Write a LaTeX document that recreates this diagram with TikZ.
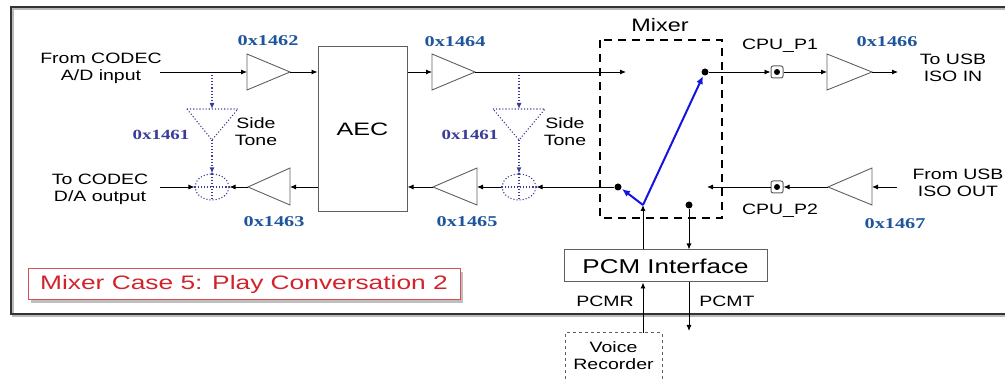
\documentclass[tikz,border=0pt]{standalone}
\usepackage{fontspec}
\usepackage{graphicx}
\setmainfont{Liberation Sans}
\newfontfamily\hexfont{Liberation Serif}
\usetikzlibrary{arrows.meta,shapes.geometric,calc}
\newcommand{\sx}[1]{\scalebox{1.3}[1]{#1}}
\definecolor{hexblue}{RGB}{30,85,155}
\definecolor{stblue}{RGB}{60,60,150}
\definecolor{swblue}{RGB}{20,20,225}
\definecolor{redtxt}{RGB}{210,35,45}
\definecolor{ampgray}{RGB}{95,95,95}
\tikzset{
  sig/.style={draw=black, line width=0.9pt, -{Latex[length=6pt,width=5pt]}},
  plain/.style={draw=black, line width=0.9pt},
  amp/.style={draw=ampgray, line width=0.9pt},
  stline/.style={draw=stblue, line width=1.1pt, dotted, -{Latex[length=6pt,width=5pt]}},
  stshape/.style={draw=stblue, line width=1.1pt, dotted},
  lbl/.style={font=\fontsize{15}{17}\selectfont, align=center, inner sep=0pt},
  hex/.style={font=\fontsize{15}{17}\hexfont\bfseries, text=hexblue, inner sep=0pt},
  hexd/.style={font=\fontsize{14}{16}\hexfont\bfseries, text=stblue, inner sep=0pt},
  blk/.style={draw=ampgray, line width=1pt, fill=white},
  dot/.style={circle, fill=black, inner sep=0pt, minimum size=7pt},
  cpub/.style={draw=ampgray, rounded corners=2pt, line width=1pt, minimum size=12pt, inner sep=0pt},
  sw/.style={draw=swblue, line width=2pt, -{Latex[length=8pt,width=7pt]}},
}
\begin{document}
\begin{tikzpicture}[x=1pt,y=-1pt]
\useasboundingbox (0,0) rectangle (1005,379);
% outer frame
\draw[gray!55, line width=1.2pt] (13,9) rectangle (1012,316);
\draw[gray!40!black, line width=1.2pt] (11,7) rectangle (1010,314);

% Mixer dashed box
\draw[black, line width=2pt, dash pattern=on 8pt off 6pt] (600,40) rectangle (722,218);
\node[font=\fontsize{18}{20}\selectfont, inner sep=0pt] (mixlbl) at (660,25) {\sx{Mixer}};

% AEC block
\node[blk, minimum width=89pt, minimum height=165pt, inner sep=0pt] (aec) at (362.5,129.5) {};
\node[font=\fontsize{18}{20}\selectfont, inner sep=0pt] (aectxt) at (aec.center) {\scalebox{1.4}[1]{AEC}};

% PCM Interface
\node[blk, minimum width=203pt, minimum height=32pt, inner sep=0pt] (pcm) at (665.5,266) {};
\node[font=\fontsize{20}{22}\selectfont, inner sep=0pt] (pcmtxt) at (pcm.center) {\sx{PCM Interface}};

% Voice recorder
\draw[ampgray, line width=1pt, dashed] (565,385) -- (565,333) -- (662,333) -- (662,385);
\coordinate (vr) at (643,333);
\node[lbl, font=\fontsize{15}{17}\selectfont] (vrtxt) at (613.5,356) {\sx{Voice}\\\sx{Recorder}};

% Red caption
\fill[gray!50] (31,272) rectangle (463,303);
\node[draw=redtxt!80, line width=1pt, fill=white, minimum width=432pt, minimum height=31pt, inner sep=0pt] (cap) at (244,284.5) {};
\node[font=\fontsize{19.5}{21}\selectfont, text=redtxt, inner sep=0pt] (captxt) at (cap.center) {\scalebox{1.35}[1]{Mixer Case 5: Play Conversation 2}};

% ---------- amplifiers ----------
\coordinate (a1b) at (247,72); \coordinate (a1t) at (290,72);
\draw[amp] (247,54) -- (290,72) -- (247,90) -- cycle;
\coordinate (a2b) at (432,72); \coordinate (a2t) at (475,72);
\draw[amp] (432,54) -- (475,72) -- (432,90) -- cycle;
\coordinate (a3b) at (290,187); \coordinate (a3t) at (248,187);
\draw[amp] (290,168) -- (248,187) -- (290,205) -- cycle;
\coordinate (a4b) at (477,187); \coordinate (a4t) at (433,187);
\draw[amp] (477,168) -- (433,187) -- (477,205) -- cycle;
\coordinate (a5b) at (827,72); \coordinate (a5t) at (872,72);
\draw[amp] (827,54) -- (872,72) -- (827,90) -- cycle;
\coordinate (a6b) at (872,187); \coordinate (a6t) at (828,187);
\draw[amp] (872,168) -- (828,187) -- (872,205) -- cycle;

% ---------- side tones ----------
\coordinate (br1) at (212,72); \coordinate (st1top) at (212,109); \coordinate (st1tip) at (212,140);
\draw[stshape] (187,109) -- (238,109) -- (st1tip) -- cycle;
\node[stshape, ellipse, minimum width=34pt, minimum height=26pt, inner sep=0pt] (sum1) at (212,187) {};
\draw[stshape] (sum1.north) -- (sum1.south) (sum1.west) -- (sum1.east);
\draw[stline] (br1) -- (st1top);
\draw[stline] (st1tip) -- (sum1.north);

\coordinate (br2) at (519,72); \coordinate (st2top) at (519,109); \coordinate (st2tip) at (519,140);
\draw[stshape] (493,109) -- (545,109) -- (st2tip) -- cycle;
\node[stshape, ellipse, minimum width=34pt, minimum height=26pt, inner sep=0pt] (sum2) at (519,187) {};
\draw[stshape] (sum2.north) -- (sum2.south) (sum2.west) -- (sum2.east);
\draw[stline] (br2) -- (st2top);
\draw[stline] (st2tip) -- (sum2.north);

% ---------- CPU boxes ----------
\node[cpub] (cpu1) at (777,72) {};
\node[dot, minimum size=6pt] (cpu1d) at (cpu1.center) {};
\node[cpub] (cpu2) at (777,187) {};
\node[dot, minimum size=6pt] (cpu2d) at (cpu2.center) {};

% ---------- dots ----------
\node[dot] (dl) at (618,187) {};
\node[dot] (dr) at (705,72) {};
\node[dot] (dp) at (689,205) {};
\coordinate (pivot) at (643,205);

% ---------- connectors ----------
\coordinate (in1) at (160,72);
\coordinate (out1) at (160,187);
\coordinate (mixin) at (626,72);
\coordinate (usbout) at (898,72);
\coordinate (usbin) at (897,187);
\coordinate (mixback) at (707,187);
\coordinate (pcmtend) at (689,331);

\draw[sig] (in1) -- (a1b);
\draw[sig] (a1t) -- (aec.west |- a1t);
\draw[sig] (aec.east |- a2b) -- (a2b);
\draw[sig] (a2t) -- (mixin);

\draw[sig] (aec.west |- a3b) -- (a3b);
\draw[sig] (a3t) -- (sum1.east);
\draw[sig] (out1) -- (sum1.west);

\draw[sig] (dl) -- (sum2.east);
\draw[sig] (sum2.west) -- (a4b);
\draw[sig] (a4t) -- (aec.east |- a4t);

\draw[sig] (dr) -- (cpu1.west);
\draw[sig] (cpu1.east) -- (a5b);
\draw[sig] (a5t) -- (usbout);

\draw[sig] (usbin) -- (a6b);
\draw[sig] (a6t) -- (cpu2.east);
\draw[sig] (cpu2.west) -- (mixback);

\draw[sig] (pcm.north -| pivot) -- (pivot);
\draw[sig] (dp) -- (pcm.north -| dp);
\draw[sig] (vr) -- (pcm.south -| vr);
\draw[sig] (pcm.south -| pcmtend) -- (pcmtend);

% switch
\draw[sw] (pivot) -- ($(dr)+(-2,4)$);
\draw[sw] (pivot) -- ($(dl)+(4,2)$);

% ---------- labels ----------
\node[lbl] (t1) at (101,68) {\sx{From CODEC}\\\sx{A/D input}};
\node[lbl] (t2) at (100,189) {\sx{To CODEC}\\\sx{D/A output}};
\node[lbl] (t3) at (953,68) {\sx{To USB}\\\sx{ISO IN}};
\node[lbl] (t4) at (958,183) {\sx{From USB}\\\sx{ISO OUT}};
\node[lbl] (st1) at (256,132) {\sx{Side}\\\sx{Tone}};
\node[lbl] (st2) at (565,132) {\sx{Side}\\\sx{Tone}};
\node[lbl] (cp1) at (780,46) {\sx{CPU\_P1}};
\node[lbl] (cp2) at (780,211) {\sx{CPU\_P2}};
\node[lbl] (pr) at (605,301) {\sx{PCMR}};
\node[lbl] (pt) at (727,301) {\sx{PCMT}};

\node[hex] (h1462) at (268,41) {\scalebox{1.35}[1]{0x1462}};
\node[hex] (h1464) at (455,42) {\scalebox{1.35}[1]{0x1464}};
\node[hex] (h1466) at (887,42) {\scalebox{1.35}[1]{0x1466}};
\node[hex] (h1463) at (274,222) {\scalebox{1.35}[1]{0x1463}};
\node[hex] (h1465) at (467,222) {\scalebox{1.35}[1]{0x1465}};
\node[hex] (h1467) at (895,224) {\scalebox{1.35}[1]{0x1467}};
\node[hexd] (h1461a) at (161,135) {\scalebox{1.35}[1]{0x1461}};
\node[hexd] (h1461b) at (470,135) {\scalebox{1.35}[1]{0x1461}};
\end{tikzpicture}
\end{document}
